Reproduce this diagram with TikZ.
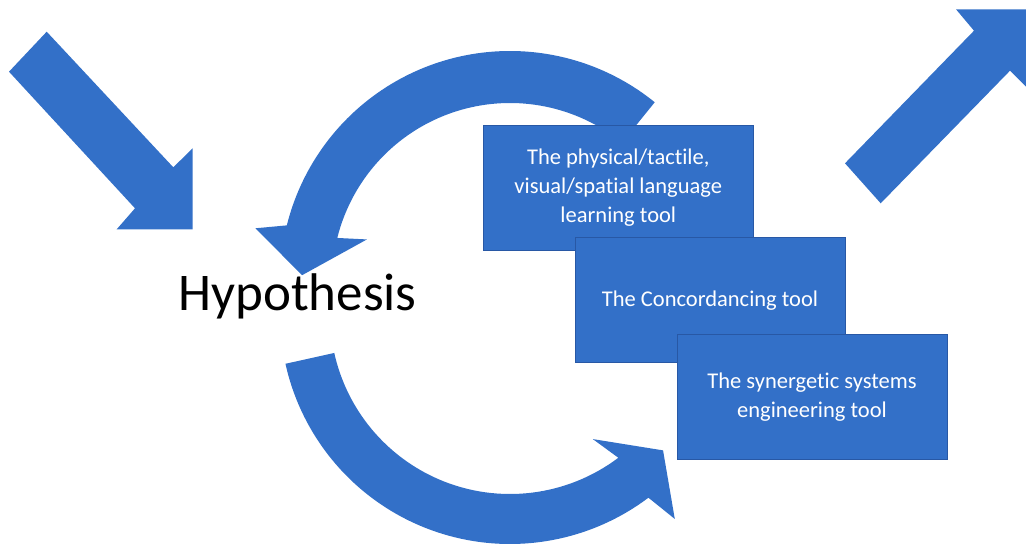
\documentclass[tikz,border=0pt]{standalone}
\usepackage{fontspec}
\setmainfont{Carlito}[Ligatures=NoCommon]
\definecolor{shapeblue}{RGB}{51,112,200}
\definecolor{edgeblue}{RGB}{40,88,165}
\tikzset{
  bigarrow/.style={fill=shapeblue, draw=none},
  toolbox/.style={rectangle, fill=shapeblue, draw=edgeblue, line width=0.8pt,
    minimum width=270pt, minimum height=125pt, inner sep=0pt,
    text=white, align=center, font=\fontsize{22.5}{29}\selectfont},
}
\begin{document}
\begin{tikzpicture}[x=1pt,y=1pt]
  \useasboundingbox (0,0) rectangle (1026,-546);
  \clip (0,0) rectangle (1026,-546);

  % incoming arrow, upper left
  \fill[bigarrow] (46.7,-31.7) -- (173.3,-167.3) -- (192.7,-148.3) -- (192.7,-229.3)
    -- (116.7,-229.3) -- (135,-208.3) -- (9,-71.7) -- cycle;

  % outgoing arrow, upper right
  \fill[bigarrow] (845,-163.3) -- (974,-30.7) -- (956,-9.3) -- (1030,-9.3)
    -- (1030,-90.7) -- (1010,-70.7) -- (880.7,-203.3) -- cycle;

  % upper circular arrow, pointing back to the hypothesis
  \fill[bigarrow, shift={(510,-281)}]
    (51:230pt) arc[start angle=51, end angle=166, radius=230pt]
    -- (168.3:260pt) -- (178.4:208pt) -- (163.8:149pt)
    -- (166:178pt) arc[start angle=166, end angle=51, radius=178pt] -- cycle;

  % lower circular arrow, pointing on to the tools
  \fill[bigarrow, shift={(510,-314)}]
    (192.5:230pt) arc[start angle=192.5, end angle=307, radius=230pt]
    -- (308.8:263pt) -- (318.3:205pt) -- (303.5:150pt)
    -- (307:180pt) arc[start angle=307, end angle=192.5, radius=180pt] -- cycle;

  % central label
  \node[anchor=base, inner sep=0pt, font=\fontsize{53}{60}\selectfont]
    (hyp) at (297.5,-310) {Hypothesis};

  % stacked tool boxes
  \node[toolbox] (tactile) at (618.3,-188)
    {The physical/tactile,\\visual/spatial language\\learning tool};
  \node[toolbox] (concord) at (710,-300.3) {The Concordancing tool};
  \node[toolbox] (synergy) at (812,-397) {The synergetic systems\\engineering tool};
\end{tikzpicture}
\end{document}
